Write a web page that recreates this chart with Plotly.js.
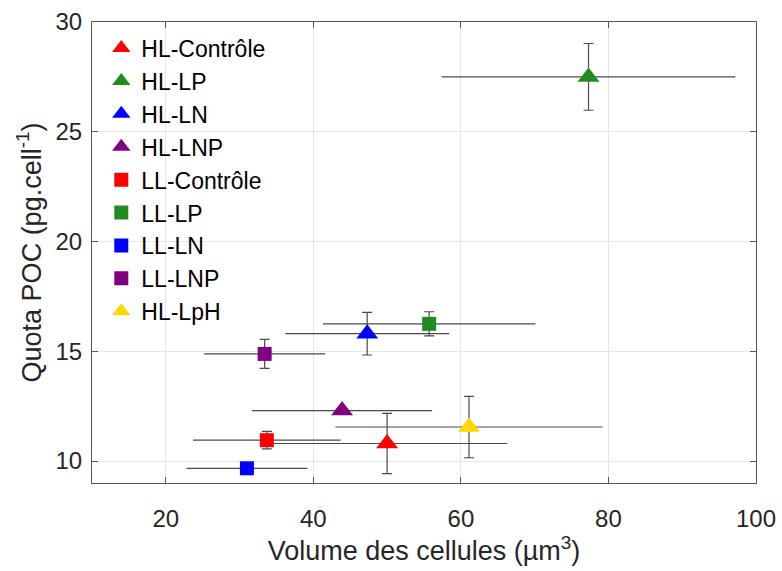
<!DOCTYPE html>
<html>
<head>
<meta charset="utf-8">
<script src="https://cdn.plot.ly/plotly-3.0.1.min.js"></script>
<style>html,body{margin:0;padding:0;background:#fff;}#chart{width:782px;height:571px;}</style>
</head>
<body>
<div id="chart"></div>
<script>
const names = ['HL-Contrôle','HL-LP','HL-LN','HL-LNP','LL-Contrôle','LL-LP','LL-LN','LL-LNP','HL-LpH'];
const volume = [50.0, 77.3, 47.3, 43.9, 33.7, 55.7, 31.0, 33.4, 61.1];
const volumeErr = [16.3, 19.9, 11.1, 12.2, 10.0, 14.4, 8.2, 8.2, 18.1];
const poc = [10.8, 27.5, 15.8, 12.3, 10.95, 16.25, 9.67, 14.88, 11.55];
const pocErr = [1.37, 1.52, 0.97, 0, 0.4, 0.55, 0, 0.66, 1.4];
const colors = ['#FF0000','#228B22','#0000FF','#800080','#FF0000','#228B22','#0000FF','#800080','#FFD700'];
const symbols = ['triangle-up','triangle-up','triangle-up','triangle-up','square','square','square','square','triangle-up'];

const FONT = 'Liberation Sans, Arial, Helvetica, sans-serif';
const traces = names.map((n, i) => ({
  type: 'scatter', mode: 'markers', name: n,
  legendgroup: 'g' + i,
  x: [volume[i]], y: [poc[i]],
  error_x: {type: 'data', array: [volumeErr[i]], visible: true, color: '#4a4a4a', thickness: 1.2, width: 0},
  error_y: {type: 'data', array: [pocErr[i]], visible: true, color: '#4a4a4a', thickness: 1.2, width: 5},
  marker: {symbol: symbols[i], color: colors[i], size: symbols[i] === 'square' ? 14 : 19, line: {width: 0}}
}));

const layout = {
  width: 782, height: 571,
  margin: {l: 92, r: 26, t: 22, b: 88},
  paper_bgcolor: '#fff', plot_bgcolor: '#fff',
  font: {family: FONT, color: '#262626'},
  showlegend: true,
  legend: {x: 0.014, xanchor: 'left', y: 0.99, yanchor: 'top', bgcolor: 'rgba(255,255,255,0)',
           font: {size: 23, family: FONT, color: '#000'}, tracegroupgap: 0, itemsizing: 'trace'},
  xaxis: {
    range: [10, 100], tickvals: [20, 40, 60, 80, 100], ticktext: ['20','40','60','80','100'],
    showgrid: true, gridcolor: '#e6e6e6', gridwidth: 1, zeroline: false,
    showline: true, linecolor: '#555', linewidth: 1, mirror: 'ticks',
    ticks: 'inside', ticklen: 6, tickcolor: '#555',
    tickfont: {size: 24, family: FONT, color: '#262626'}, ticklabelstandoff: 14,
    title: {text: 'Volume des cellules (µm<sup>3</sup>)', font: {size: 27, family: FONT, color: '#262626'}, standoff: 10}
  },
  yaxis: {
    range: [9, 30], tickvals: [10, 15, 20, 25, 30],
    showgrid: true, gridcolor: '#e6e6e6', gridwidth: 1, zeroline: false,
    showline: true, linecolor: '#555', linewidth: 1, mirror: 'ticks',
    ticks: 'inside', ticklen: 6, tickcolor: '#555',
    tickfont: {size: 24, family: FONT, color: '#262626'}, ticklabelstandoff: 4,
    title: {text: 'Quota POC (pg.cell<sup>-1</sup>)', font: {size: 27, family: FONT, color: '#262626'}, standoff: 6}
  }
};

Plotly.newPlot('chart', traces, layout, {displayModeBar: false, staticPlot: true});
</script>
</body>
</html>
